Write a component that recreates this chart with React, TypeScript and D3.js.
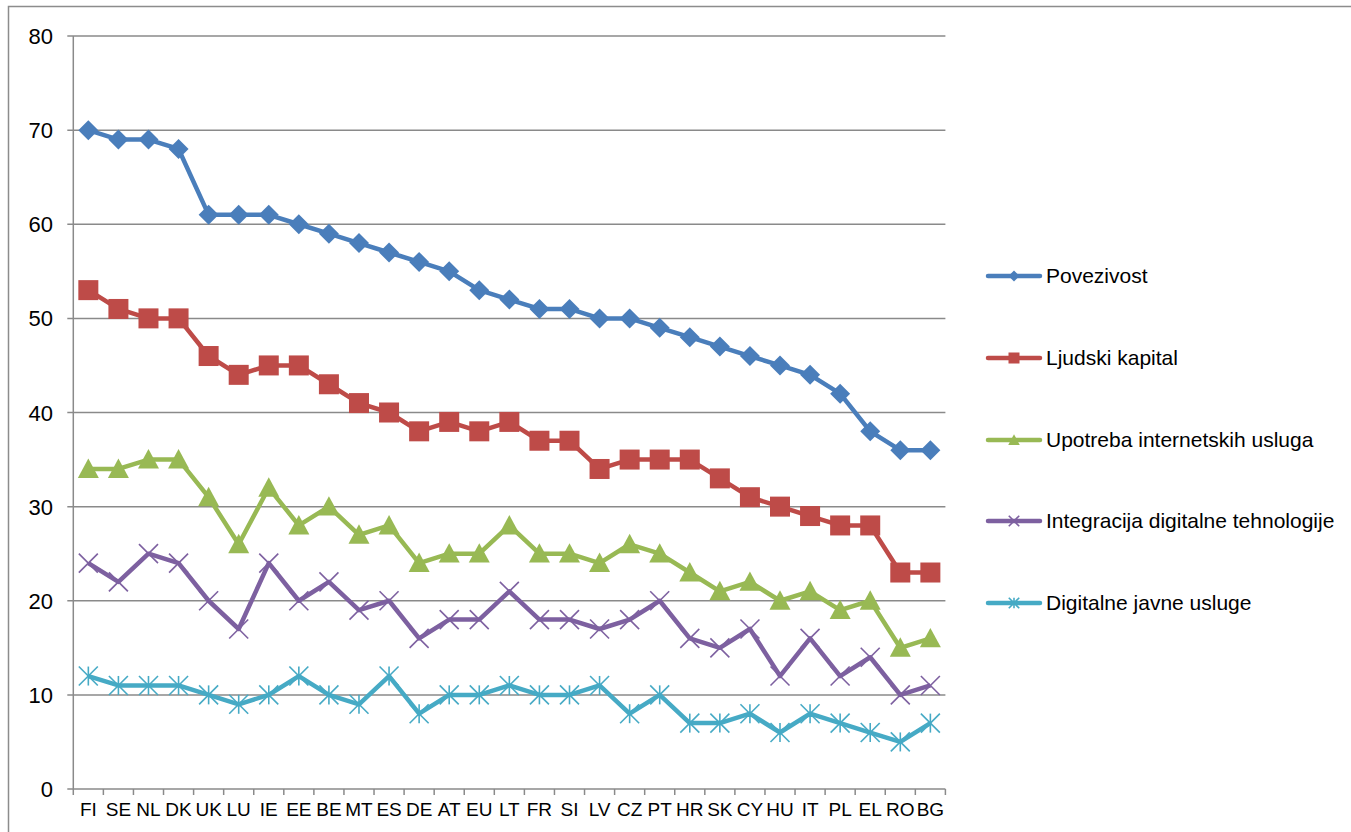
import React from "react";
import * as d3 from "d3";

const categories = ["FI","SE","NL","DK","UK","LU","IE","EE","BE","MT","ES","DE","AT","EU","LT","FR","SI","LV","CZ","PT","HR","SK","CY","HU","IT","PL","EL","RO","BG"];
const povezivost = [70,69,69,68,61,61,61,60,59,58,57,56,55,53,52,51,51,50,50,49,48,47,46,45,44,42,38,36,36];
const ljudskiKapital = [53,51,50,50,46,44,45,45,43,41,40,38,39,38,39,37,37,34,35,35,35,33,31,30,29,28,28,23,23];
const upotreba = [34,34,35,35,31,26,32,28,30,27,28,24,25,25,28,25,25,24,26,25,23,21,22,20,21,19,20,15,16];
const integracija = [24,22,25,24,20,17,24,20,22,19,20,16,18,18,21,18,18,17,18,20,16,15,17,12,16,12,14,10,11];
const digitalneJavne = [12,11,11,11,10,9,10,12,10,9,12,8,10,10,11,10,10,11,8,10,7,7,8,6,8,7,6,5,7];
const yTicks = [0,10,20,30,40,50,60,70,80];

const series = [
  { name: "Povezivost", values: povezivost, color: "#4A7EBB", marker: "diamond" },
  { name: "Ljudski kapital", values: ljudskiKapital, color: "#BE4B48", marker: "square" },
  { name: "Upotreba internetskih usluga", values: upotreba, color: "#98B954", marker: "triangle" },
  { name: "Integracija digitalne tehnologije", values: integracija, color: "#7D60A0", marker: "x" },
  { name: "Digitalne javne usluge", values: digitalneJavne, color: "#46AAC5", marker: "star" },
];

const FONT = "'Liberation Sans', Arial, sans-serif";

function Marker({ type, x, y, color, scale = 1 }: { type: string; x: number; y: number; color: string; scale?: number }) {
  const s = scale;
  if (type === "diamond") {
    const r = 10 * s;
    return <path d={`M${x},${y - r}L${x + r},${y}L${x},${y + r}L${x - r},${y}Z`} fill={color} />;
  }
  if (type === "square") {
    const r = 10 * s;
    return <rect x={x - r} y={y - r} width={2 * r} height={2 * r} fill={color} />;
  }
  if (type === "triangle") {
    const r = 10.5 * s;
    return <path d={`M${x},${y - r}L${x + r},${y + r * 0.85}L${x - r},${y + r * 0.85}Z`} fill={color} />;
  }
  if (type === "x") {
    const r = 9.5 * s;
    return (
      <g stroke={color} strokeWidth={1.6}>
        <line x1={x - r} y1={y - r} x2={x + r} y2={y + r} />
        <line x1={x - r} y1={y + r} x2={x + r} y2={y - r} />
      </g>
    );
  }
  const r = 9.5 * s;
  return (
    <g stroke={color} strokeWidth={1.6}>
      <line x1={x - r} y1={y - r} x2={x + r} y2={y + r} />
      <line x1={x - r} y1={y + r} x2={x + r} y2={y - r} />
      <line x1={x} y1={y - r} x2={x} y2={y + r} />
    </g>
  );
}

export default function App() {
  const W = 1351, H = 832;
  const left = 73.3, right = 945.4, top = 36, bottom = 789;
  const x = d3.scaleBand<string>().domain(categories).range([left, right]);
  const y = d3.scaleLinear().domain([0, 80]).range([bottom, top]);
  const cx = (c: string) => (x(c) as number) + x.bandwidth() / 2;
  const line = d3.line<number>().x((_, i) => cx(categories[i])).y((v) => y(v));

  const legendY = [276, 358, 440, 521, 603];

  return (
    <svg width={W} height={H} style={{ position: "absolute", left: 0, top: 0, background: "#fff" }}>
      <rect x={8.5} y={6.5} width={W + 10} height={H + 10} fill="none" stroke="#8c8c8c" strokeWidth={1.5} />
      {yTicks.map((t) => (
        <g key={t}>
          <line x1={left - 6} x2={right} y1={y(t)} y2={y(t)} stroke="#8a8a8a" strokeWidth={1.5} />
          <text x={53} y={y(t) + 8} textAnchor="end" fontFamily={FONT} fontSize={22} fill="#000">{t}</text>
        </g>
      ))}
      <line x1={left} x2={left} y1={top} y2={bottom} stroke="#8a8a8a" strokeWidth={1.5} />
      {categories.map((c, i) => (
        <line key={"t" + i} x1={(x(c) as number)} x2={(x(c) as number)} y1={bottom} y2={bottom + 6} stroke="#8a8a8a" strokeWidth={1.5} />
      ))}
      <line x1={right} x2={right} y1={bottom} y2={bottom + 6} stroke="#8a8a8a" strokeWidth={1.5} />
      {categories.map((c) => (
        <text key={c} x={cx(c)} y={816} textAnchor="middle" fontFamily={FONT} fontSize={19} fill="#000">{c}</text>
      ))}
      {series.map((s) => (
        <g key={s.name}>
          <path d={line(s.values) || ""} fill="none" stroke={s.color} strokeWidth={4.5} strokeLinejoin="round" />
          {s.values.map((v, i) => (
            <Marker key={i} type={s.marker} x={cx(categories[i])} y={y(v)} color={s.color} />
          ))}
        </g>
      ))}
      {series.map((s, i) => (
        <g key={"l" + i}>
          <line x1={988} x2={1040} y1={legendY[i]} y2={legendY[i]} stroke={s.color} strokeWidth={4.5} strokeLinecap="round" />
          <Marker type={s.marker} x={1014} y={legendY[i]} color={s.color} scale={0.55} />
          <text x={1046} y={legendY[i] + 7} fontFamily={FONT} fontSize={21} fill="#000">{s.name}</text>
        </g>
      ))}
    </svg>
  );
}
